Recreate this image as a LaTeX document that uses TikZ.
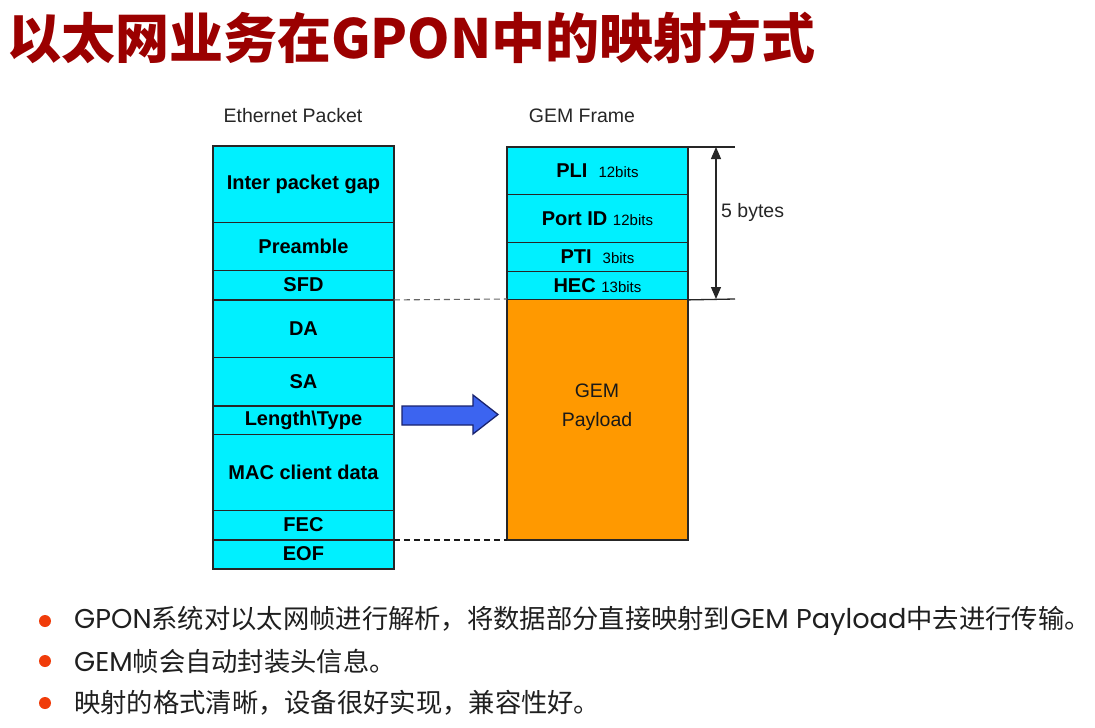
\documentclass[tikz,border=0pt]{standalone}
\usepackage{fontspec}
\setmainfont{Liberation Sans}
\newfontfamily\cjk{Noto Sans CJK SC}
\newfontfamily\lat{Poppins}[Scale=1.035]
\usetikzlibrary{arrows.meta}
\definecolor{cellcyan}{RGB}{0,240,255}
\definecolor{payorange}{RGB}{255,153,0}
\definecolor{titlered}{RGB}{155,0,0}
\definecolor{bulletred}{RGB}{240,60,10}
\definecolor{arrowblue}{RGB}{60,100,240}
\definecolor{arrowedge}{RGB}{25,35,110}
\tikzset{
  cellbox/.style={draw=black!85, line width=0.9pt, fill=cellcyan, minimum width=180pt,
    minimum height=#1, inner sep=0pt, anchor=north west,
    font=\fontsize{20}{24}\selectfont\bfseries},
  outerline/.style={draw=black!85, line width=1.7pt},
  thinline/.style={draw=black!85, line width=1pt},
  hdr/.style={font=\fontsize{19.5}{23}\selectfont, text=black!85, inner sep=0pt},
  bullettext/.style={anchor=west, inner sep=0pt, text=black!88,
    font=\cjk\fontsize{26.3}{30}\selectfont},
  dashgray/.style={draw=black!60, line width=1.1pt, dash pattern=on 6pt off 4pt},
  dashdark/.style={draw=black!90, line width=1.3pt, dash pattern=on 6pt off 4pt}
}
\newcommand\bitsize{\fontsize{15}{18}\selectfont\mdseries}
\begin{document}
\begin{tikzpicture}[x=1pt,y=-1pt]
\useasboundingbox (0,0) rectangle (1095,728);
\fill[white] (0,0) rectangle (1095,728);

% title
\node[anchor=base west, inner sep=0pt, text=titlered,
  font=\cjk\bfseries\fontsize{54}{60}\selectfont] (title) at (7,58) {以太网业务在GPON中的映射方式};

% headers
\node[hdr] (eth) at (293,116) {Ethernet Packet};
\node[hdr] (gemf) at (582,116) {GEM Frame};

% Ethernet packet column
\node[cellbox=76pt] (ipg) at (213,146) {Inter packet gap};
\node[cellbox=48pt] (pre) at (213,222) {Preamble};
\node[cellbox=29pt] (sfd) at (213,270) {SFD};
\node[cellbox=58pt] (da)  at (213,299) {DA};
\node[cellbox=48pt] (sa)  at (213,357) {SA};
\node[cellbox=29pt] (lt)  at (213,405) {Length\textbackslash Type};
\node[cellbox=76pt] (mac) at (213,434) {MAC client data};
\node[cellbox=29pt] (fec) at (213,510) {FEC};
\node[cellbox=29pt] (eof) at (213,539) {EOF};
\draw[outerline] (ipg.north west) rectangle (eof.south east);
\draw[outerline] (sfd.south west) -- (sfd.south east);
\draw[outerline] (sa.south west) -- (sa.south east);
\draw[outerline] (fec.south west) -- (fec.south east);

% GEM frame column
\node[cellbox=47pt] (pli) at (507,147) {PLI\ \ {\bitsize 12bits}};
\node[cellbox=48pt] (pid) at (507,194) {Port ID {\bitsize 12bits}};
\node[cellbox=29pt] (pti) at (507,242) {PTI\ \ {\bitsize 3bits}};
\node[cellbox=28pt] (hec) at (507,271) {HEC {\bitsize 13bits}};
\node[cellbox=240pt, fill=payorange] (pay) at (507,299) {};
\node[align=center, inner sep=0pt, font=\fontsize{19.5}{29}\selectfont, text=black!90] (gpl) at (597,407) {GEM\\Payload};
\draw[thinline, line width=1.3pt] (pli.north west) rectangle (pay.south east);

% 5 bytes dimension
\coordinate (tr) at (735,147);
\coordinate (br) at (735,299);
\coordinate (at) at (716,147);
\coordinate (ab) at (716,299);
\draw[thinline, line width=1.3pt] (pli.north east) -- (tr);
\draw[thinline, line width=1.3pt] (hec.south east) -- (br);
\draw[thinline, line width=1.2pt, {Triangle[length=12pt,width=10pt]}-{Triangle[length=12pt,width=10pt]}] (at) -- (ab);
\node[hdr, anchor=west] (fiveb) at (721,212) {5 bytes};

% dashed mapping lines
\draw[dashgray] (sfd.south east) -- (pay.north west);
\draw[dashdark] (fec.south east) -- (pay.south west);

% blue arrow
\filldraw[fill=arrowblue, draw=arrowedge, line width=1.3pt, line join=miter]
  (402,406) -- (473,406) -- (473,395) -- (498,414.5) -- (473,434) -- (473,425) -- (402,425) -- cycle;

% bullets
\fill[bulletred] (45,621) circle (6pt);
\fill[bulletred] (45,661) circle (6pt);
\fill[bulletred] (45,703) circle (6pt);
\node[bullettext] (b1) at (74,621) {{\lat GPON}系统对以太网帧进行解析，将数据部分直接映射到{\lat GEM Payload}中去进行传输。};
\node[bullettext] (b2) at (74,661) {{\lat GEM}帧会自动封装头信息。};
\node[bullettext] (b3) at (74,703) {映射的格式清晰，设备很好实现，兼容性好。};
\end{tikzpicture}
\end{document}
